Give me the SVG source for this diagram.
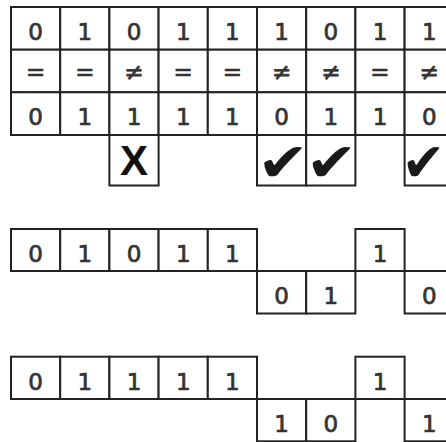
<svg xmlns="http://www.w3.org/2000/svg" width="446" height="442" viewBox="0 0 446 442">
<style>
.c{fill:#fff;stroke:#222;stroke-width:2}
.t{font-family:"DejaVu Sans",sans-serif;font-size:23px;fill:#333;stroke:#333;stroke-width:0.7;text-anchor:middle}
.x{font-family:"Liberation Sans",Arial,sans-serif;font-size:42px;font-weight:bold;fill:#111;text-anchor:middle}
.k{font-family:"DejaVu Sans",sans-serif;font-size:54px;fill:#1a1a1a;text-anchor:middle}
.ln{stroke:#222;stroke-width:2;fill:none}
</style>
<rect width="446" height="442" fill="#fff"/>
<!-- Section 1 -->
<g id="row1">
<rect class="c" x="11" y="7" width="49.2" height="42.7"/><text class="t" x="35.6" y="40">0</text>
<rect class="c" x="60.2" y="7" width="49.2" height="42.7"/><text class="t" x="84.8" y="40">1</text>
<rect class="c" x="109.4" y="7" width="49.2" height="42.7"/><text class="t" x="134" y="40">0</text>
<rect class="c" x="158.6" y="7" width="49.2" height="42.7"/><text class="t" x="183.2" y="40">1</text>
<rect class="c" x="207.8" y="7" width="49.2" height="42.7"/><text class="t" x="232.4" y="40">1</text>
<rect class="c" x="257" y="7" width="49.2" height="42.7"/><text class="t" x="281.6" y="40">1</text>
<rect class="c" x="306.2" y="7" width="49.2" height="42.7"/><text class="t" x="330.8" y="40">0</text>
<rect class="c" x="355.4" y="7" width="49.2" height="42.7"/><text class="t" x="380" y="40">1</text>
<rect class="c" x="404.6" y="7" width="49.2" height="42.7"/><text class="t" x="429.2" y="40">1</text>
</g>
<g id="row2">
<rect class="c" x="11" y="49.7" width="49.2" height="42.6"/><text class="t" x="35.6" y="80">=</text>
<rect class="c" x="60.2" y="49.7" width="49.2" height="42.6"/><text class="t" x="84.8" y="80">=</text>
<rect class="c" x="109.4" y="49.7" width="49.2" height="42.6"/><text class="t" x="134" y="80">≠</text>
<rect class="c" x="158.6" y="49.7" width="49.2" height="42.6"/><text class="t" x="183.2" y="80">=</text>
<rect class="c" x="207.8" y="49.7" width="49.2" height="42.6"/><text class="t" x="232.4" y="80">=</text>
<rect class="c" x="257" y="49.7" width="49.2" height="42.6"/><text class="t" x="281.6" y="80">≠</text>
<rect class="c" x="306.2" y="49.7" width="49.2" height="42.6"/><text class="t" x="330.8" y="80">≠</text>
<rect class="c" x="355.4" y="49.7" width="49.2" height="42.6"/><text class="t" x="380" y="80">=</text>
<rect class="c" x="404.6" y="49.7" width="49.2" height="42.6"/><text class="t" x="429.2" y="80">≠</text>
</g>
<g id="row3">
<rect class="c" x="11" y="92.3" width="49.2" height="42.7"/><text class="t" x="35.6" y="125">0</text>
<rect class="c" x="60.2" y="92.3" width="49.2" height="42.7"/><text class="t" x="84.8" y="125">1</text>
<rect class="c" x="109.4" y="92.3" width="49.2" height="42.7"/><text class="t" x="134" y="125">1</text>
<rect class="c" x="158.6" y="92.3" width="49.2" height="42.7"/><text class="t" x="183.2" y="125">1</text>
<rect class="c" x="207.8" y="92.3" width="49.2" height="42.7"/><text class="t" x="232.4" y="125">1</text>
<rect class="c" x="257" y="92.3" width="49.2" height="42.7"/><text class="t" x="281.6" y="125">0</text>
<rect class="c" x="306.2" y="92.3" width="49.2" height="42.7"/><text class="t" x="330.8" y="125">1</text>
<rect class="c" x="355.4" y="92.3" width="49.2" height="42.7"/><text class="t" x="380" y="125">1</text>
<rect class="c" x="404.6" y="92.3" width="49.2" height="42.7"/><text class="t" x="429.2" y="125">0</text>
</g>
<g id="marks">
<rect class="c" x="109.4" y="135" width="49.2" height="50.5"/><text class="x" x="134" y="175">X</text>
<rect class="c" x="257" y="135" width="49.2" height="50.5"/><text class="k" transform="translate(283,181) scale(1.15,1)">✔</text>
<rect class="c" x="306.2" y="135" width="49.2" height="50.5"/><text class="k" transform="translate(331.5,181) scale(1.15,1)">✔</text>
<rect class="c" x="404.6" y="135" width="49.2" height="50.5"/><text class="k" transform="translate(423.5,181) scale(0.97,1)">✔</text>
</g>
<!-- Section 2 -->
<g id="seq2">
<rect class="c" x="11" y="229" width="49.2" height="42"/><text class="t" x="35.6" y="262">0</text>
<rect class="c" x="60.2" y="229" width="49.2" height="42"/><text class="t" x="84.8" y="262">1</text>
<rect class="c" x="109.4" y="229" width="49.2" height="42"/><text class="t" x="134" y="262">0</text>
<rect class="c" x="158.6" y="229" width="49.2" height="42"/><text class="t" x="183.2" y="262">1</text>
<rect class="c" x="207.8" y="229" width="49.2" height="42"/><text class="t" x="232.4" y="262">1</text>
<rect class="c" x="355.4" y="229" width="49.2" height="42"/><text class="t" x="380" y="262">1</text>
<rect class="c" x="257" y="271" width="49.2" height="42.5"/><text class="t" x="281.6" y="304">0</text>
<rect class="c" x="306.2" y="271" width="49.2" height="42.5"/><text class="t" x="330.8" y="304">1</text>
<rect class="c" x="404.6" y="271" width="49.2" height="42.5"/><text class="t" x="429.2" y="304">0</text>
</g>
<!-- Section 3 -->
<g id="seq3">
<rect class="c" x="11" y="356.7" width="49.2" height="42.3"/><text class="t" x="35.6" y="390">0</text>
<rect class="c" x="60.2" y="356.7" width="49.2" height="42.3"/><text class="t" x="84.8" y="390">1</text>
<rect class="c" x="109.4" y="356.7" width="49.2" height="42.3"/><text class="t" x="134" y="390">1</text>
<rect class="c" x="158.6" y="356.7" width="49.2" height="42.3"/><text class="t" x="183.2" y="390">1</text>
<rect class="c" x="207.8" y="356.7" width="49.2" height="42.3"/><text class="t" x="232.4" y="390">1</text>
<rect class="c" x="355.4" y="356.7" width="49.2" height="42.3"/><text class="t" x="380" y="390">1</text>
<rect class="c" x="257" y="399" width="49.2" height="42.3"/><text class="t" x="281.6" y="432">1</text>
<rect class="c" x="306.2" y="399" width="49.2" height="42.3"/><text class="t" x="330.8" y="432">0</text>
<rect class="c" x="404.6" y="399" width="49.2" height="42.3"/><text class="t" x="429.2" y="432">1</text>
</g>
<g id="lines">
<line class="ln" x1="11" y1="271" x2="446" y2="271"/>
<line class="ln" x1="11" y1="399" x2="446" y2="399"/>
</g>
</svg>
